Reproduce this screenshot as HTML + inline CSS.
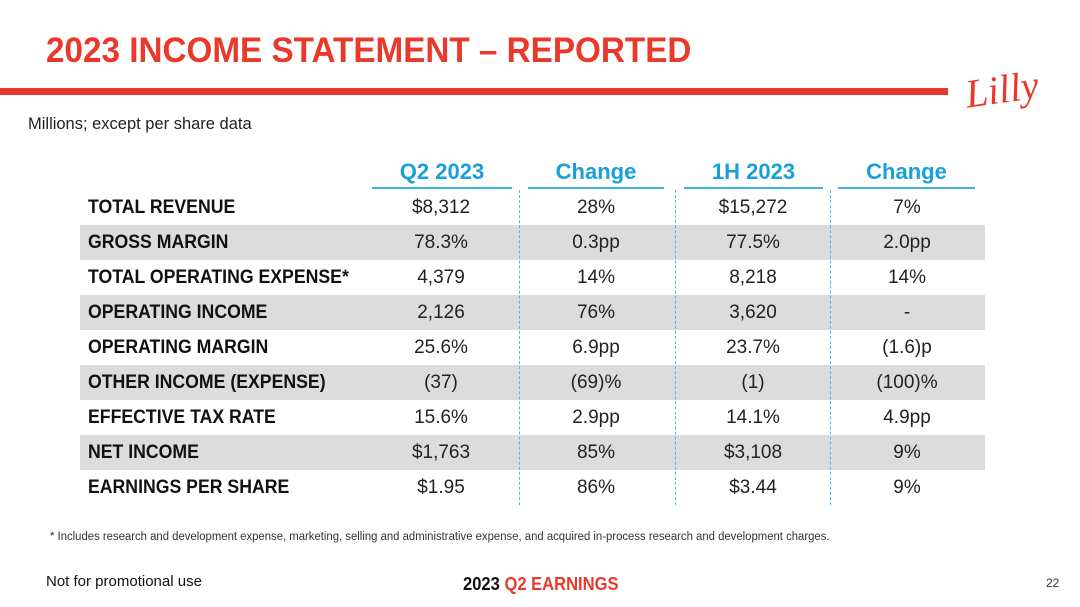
<!DOCTYPE html>
<html><head><meta charset="utf-8"><style>
body{margin:0;width:1080px;height:607px;background:#fff;position:relative;overflow:hidden;font-family:"Liberation Sans Narrow","Liberation Sans",sans-serif;}
.abs{position:absolute;}
#title{left:46px;top:31px;font-size:35px;font-weight:bold;color:#e8392b;white-space:nowrap;transform:scaleX(0.95);transform-origin:left top;}
#bar{left:0;top:88px;width:948px;height:7px;background:#e8392b;}
#sub{left:28px;top:114px;font-size:17px;color:#222;transform:scaleX(0.97);transform-origin:left top;white-space:nowrap;}
.hd{top:158px;height:29px;border-bottom:2px solid #3fb4e3;color:#1aa0d8;font-size:22px;font-weight:bold;text-align:center;line-height:28px;}
.row{left:80px;width:905px;height:35px;}
.row.g{background:#dcdcdc;}
.lab{left:88px;font-size:19px;font-weight:bold;color:#111;line-height:35px;white-space:nowrap;transform:scaleX(0.93);transform-origin:left top;}
.val{font-size:19px;color:#222;line-height:35px;text-align:center;width:140px;}
.sep{top:190px;height:315px;border-left:1px dashed #5ab8e0;}
#foot{left:50px;top:531px;font-size:11.5px;color:#333;white-space:nowrap;transform:scaleX(0.985);transform-origin:left top;}
#npu{left:46px;top:573px;font-size:15px;color:#111;}
#earn{left:463px;top:574px;font-size:18px;font-weight:bold;color:#111;white-space:nowrap;transform:scaleX(0.92);transform-origin:left top;}
#pg{left:1046px;top:576px;font-size:12px;color:#333;}
</style></head><body>
<div class="abs" id="title">2023 INCOME STATEMENT – REPORTED</div>
<div class="abs" id="bar"></div>
<svg class="abs" style="left:962px;top:64px" width="95" height="52">
<text x="4" y="38" font-family="Liberation Serif,serif" font-style="italic" font-size="40" fill="#e8392b" transform="rotate(-8 45 30)">Lilly</text></svg>
<div class="abs" id="sub">Millions; except per share data</div>
<div class="abs hd" style="left:372px;width:140px">Q2 2023</div>
<div class="abs hd" style="left:528px;width:136px">Change</div>
<div class="abs hd" style="left:684px;width:139px">1H 2023</div>
<div class="abs hd" style="left:838px;width:137px">Change</div>
<div id="rows"></div>
<div class="abs sep" style="left:519px"></div>
<div class="abs sep" style="left:675px"></div>
<div class="abs sep" style="left:830px"></div>
<div class="abs" id="foot">* Includes research and development expense, marketing, selling and administrative expense, and acquired in-process research and development charges.</div>
<div class="abs" id="npu">Not for promotional use</div>
<div class="abs" id="earn">2023 <span style="color:#e8392b">Q2 EARNINGS</span></div>
<div class="abs" id="pg">22</div>
<script>
const labels=["TOTAL REVENUE","GROSS MARGIN","TOTAL OPERATING EXPENSE*","OPERATING INCOME","OPERATING MARGIN","OTHER INCOME (EXPENSE)","EFFECTIVE TAX RATE","NET INCOME","EARNINGS PER SHARE"];
const q2=["$8,312","78.3%","4,379","2,126","25.6%","(37)","15.6%","$1,763","$1.95"];
const chq2=["28%","0.3pp","14%","76%","6.9pp","(69)%","2.9pp","85%","86%"];
const h1=["$15,272","77.5%","8,218","3,620","23.7%","(1)","14.1%","$3,108","$3.44"];
const chh1=["7%","2.0pp","14%","-","(1.6)p","(100)%","4.9pp","9%","9%"];
const cols=[[q2,441],[chq2,596],[h1,753],[chh1,907]];
const root=document.getElementById('rows');
labels.forEach((l,i)=>{
  const y=190+i*35;
  const r=document.createElement('div');
  r.className='abs row'+(i%2?' g':'');
  r.style.top=y+'px';
  
  
  root.appendChild(r);
  const t=document.createElement('div');
  t.className='abs lab';t.style.top=y+'px';t.textContent=l;
  
  
  root.appendChild(t);
  cols.forEach(([arr,cx])=>{
    const v=document.createElement('div');
    v.className='abs val';v.style.top=y+'px';v.style.left=(cx-70)+'px';v.textContent=arr[i];
    
    
    root.appendChild(v);
  });
});
</script>
</body></html>
